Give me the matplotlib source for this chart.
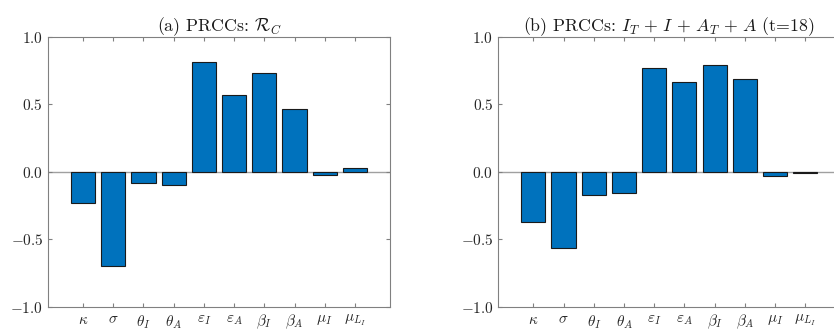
import matplotlib
matplotlib.use("Agg")
import matplotlib.pyplot as plt
import numpy as np

plt.rcParams['mathtext.fontset'] = 'cm'
plt.rcParams['font.family'] = ['cmr10', 'DejaVu Serif']
plt.rcParams['axes.unicode_minus'] = False

params = [r'$\kappa$', r'$\sigma$', r'$\theta_I$', r'$\theta_A$', r'$\varepsilon_I$',
          r'$\varepsilon_A$', r'$\beta_I$', r'$\beta_A$', r'$\mu_I$', r'$\mu_{L_I}$']

# PRCC values for R_C
prcc_rc = [-0.234, -0.696, -0.086, -0.10, 0.815, 0.570, 0.733, 0.467, -0.025, 0.03]
# PRCC values for I_T + I + A_T + A at t=18
prcc_inf = [-0.37, -0.567, -0.173, -0.16, 0.77, 0.667, 0.79, 0.689, -0.032, -0.01]

yticks = [-1.0, -0.5, 0.0, 0.5, 1.0]
ytick_labels = [r'$-1.0$', r'$-0.5$', r'$0.0$', r'$0.5$', r'$1.0$']

titles = [r'(a) PRCCs: $\mathcal{R}_C$',
          r'(b) PRCCs: $I_T\,+\,I\,+\,A_T\,+\,A$ (t=18)']

fig = plt.figure(figsize=(8.34, 3.30), dpi=100)
ax1 = fig.add_axes([0.0576, 0.0706, 0.410, 0.818])
ax2 = fig.add_axes([0.5975, 0.0706, 0.410, 0.818])

spine_col = '#808080'
x = np.arange(1, len(params) + 1)

for ax, vals, title in zip([ax1, ax2], [prcc_rc, prcc_inf], titles):
    ax.axhline(0, color='#a0a0a0', linewidth=1.0, zorder=1)
    ax.bar(x, vals, width=0.8, color='#0072BD', edgecolor='#1a1a1a',
           linewidth=0.8, zorder=2)
    ax.set_xlim(-0.16, 11.16)
    ax.set_ylim(-1.0, 1.0)
    ax.set_xticks(x)
    ax.set_xticklabels(params, fontsize=11)
    ax.set_yticks(yticks)
    ax.set_yticklabels(ytick_labels, fontsize=11)
    ax.tick_params(direction='in', top=True, right=True, length=3,
                   color=spine_col, width=0.8, labelcolor='#262626')
    ax.tick_params(axis='x', pad=4.5)
    for s in ax.spines.values():
        s.set_color(spine_col)
        s.set_linewidth(0.8)
    ax.set_title(title, fontsize=12.8, pad=4, color='#1a1a1a')

fig.savefig('out.png', dpi=100)
